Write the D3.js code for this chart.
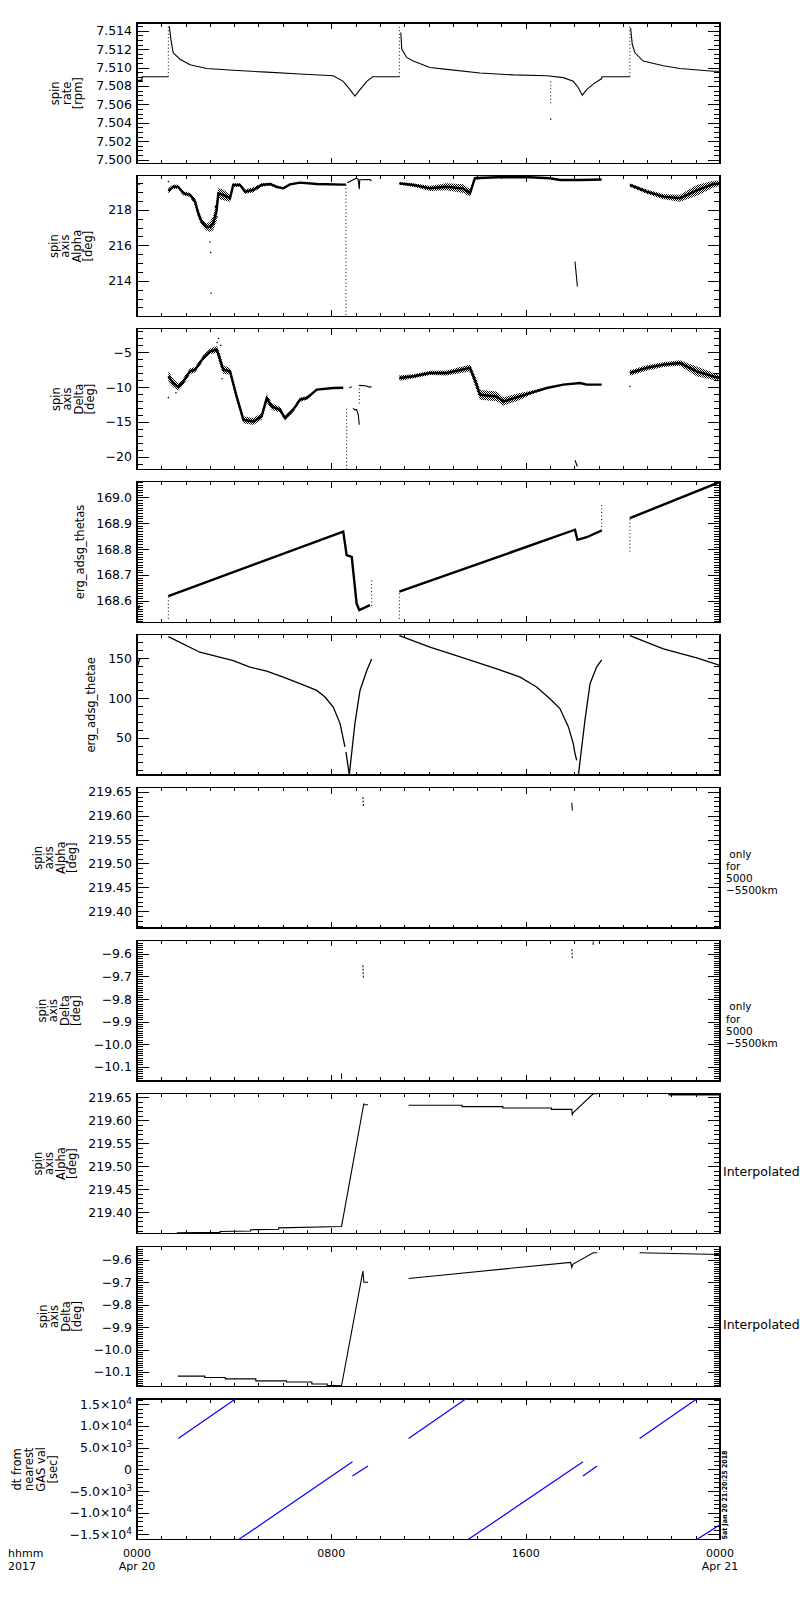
<!DOCTYPE html>
<html>
<head>
<meta charset="utf-8">
<script src="https://cdn.jsdelivr.net/npm/d3@7"></script>
<style>
body{margin:0;background:#fff}
svg{display:block;font-family:"DejaVu Sans",sans-serif}
</style>
</head>
<body>
<svg id="chart" width="800" height="1600"></svg>
<script>
// values: [hours since 2017-04-20 00:00, value(, scatter half width)]

// spin rate [rpm]
const rateA = [[0,7.5086],[0.20,7.5086],[0.21,7.5090],[1.29,7.5090]]
const rateB = [[1.33,7.5145],[1.40,7.5130],[1.49,7.5116],[1.77,7.5109],[2.18,7.5103],[2.87,7.5099],[3.96,7.5097],[5.34,7.5095],[6.71,7.5093],[8.08,7.5091],[8.49,7.5085],[8.77,7.5076],[8.97,7.5069],[9.18,7.5076],[9.46,7.5085],[9.66,7.5089],[9.70,7.5090],[10.80,7.5090]]
const rateC = [[10.86,7.5138],[10.90,7.5120],[11.10,7.5111],[11.37,7.5107],[12.06,7.5100],[12.75,7.5098],[14.12,7.5094],[15.49,7.5092],[16.87,7.5091],[17.55,7.5089],[17.96,7.5085],[18.17,7.5078],[18.33,7.5070],[18.51,7.5076],[18.78,7.5082],[19.13,7.5088],[19.14,7.5090],[20.29,7.5090]]
const rateD = [[20.32,7.5143],[20.39,7.5125],[20.50,7.5116],[20.84,7.5107],[21.67,7.5102],[22.35,7.5099],[23.72,7.5096],[24,7.5096]]
const rateJumps = [[1.29,7.5090,7.5147],[10.80,7.5090,7.5147],[17.03,7.5085,7.5060],[20.29,7.5090,7.5147]]
const rateOut = [[17.03,7.5044]]

// spin axis alpha [deg]
const alphaA = [[1.29,219.07,0.15],[1.49,219.31,0.12],[1.70,219.30,0.12],[1.91,218.94,0.12],[2.18,218.85,0.12],[2.39,218.47,0.2],[2.52,217.81,0.25],[2.66,217.34,0.2],[2.87,217.02,0.2],[3.01,217.06,0.3],[3.14,217.25,0.4],[3.28,218.0,0.6],[3.35,218.94,0.3],[3.55,218.85,0.3],[3.83,218.66,0.2],[3.96,219.41,0.1],[4.24,219.41,0.1],[4.45,219.03,0.12],[4.79,219.13,0.15],[5.13,219.41,0.1],[5.48,219.46,0.08],[5.75,219.30,0.08],[6.02,219.22,0.06],[6.30,219.44,0.05],[6.71,219.54,0.03],[7.40,219.46,0.02],[8.49,219.43,0.02],[8.60,219.43,0]]
const alphaB = [[8.66,219.54],[8.77,219.60],[9.02,219.79],[9.10,219.75],[9.15,219.17],[9.17,219.70],[9.59,219.72],[9.66,219.63]]
const alphaC = [[10.80,219.50,0.08],[11.37,219.41,0.1],[12.06,219.22,0.15],[12.75,219.31,0.2],[13.43,219.20,0.25],[13.71,218.95,0.2],[13.91,219.79,0.08],[14.81,219.84,0.03],[16.18,219.84,0.02],[17.00,219.79,0.01],[17.41,219.69,0.01],[18.24,219.69,0.01],[19.13,219.72,0]]
const alphaD = [[20.29,219.41,0.1],[20.98,219.03,0.12],[21.67,218.75,0.15],[22.35,218.66,0.2],[23.04,219.10,0.3],[23.72,219.45,0.2],[24,219.50,0.15]]
const alphaLeft = [[0,219.46],[0.12,219.46]]
const alphaGlitch = [[18.03,215.09],[18.13,213.68]]
const alphaJumps = [[8.60,219.43,211.99]]
const alphaOut = [[1.29,219.60],[3.00,216.2],[3.03,215.6],[3.05,213.3],[3.30,217.6],[3.22,218.2]]

// spin axis delta [deg]
const deltaA = [[1.29,-8.46,0.8],[1.49,-9.41,0.6],[1.70,-10.0,0.5],[1.91,-9.18,0.5],[2.18,-7.74,0.4],[2.39,-7.5,0.4],[2.73,-5.81,0.4],[3.01,-4.86,0.4],[3.28,-4.6,0.5],[3.42,-6.05,0.9],[3.55,-7.5,0.6],[3.83,-7.74,0.5],[4.10,-11.34,0.6],[4.38,-14.7,0.5],[4.79,-14.94,0.5],[5.13,-14.2,0.5],[5.34,-11.6,0.6],[5.55,-12.78,0.5],[5.89,-13.26,0.4],[6.09,-14.45,0.3],[6.43,-13.26,0.3],[6.71,-11.8,0.3],[6.99,-11.57,0.25],[7.40,-10.37,0.1],[8.08,-10.13,0.05],[8.49,-10.10,0]]
const deltaB = [[8.74,-10.10],[8.84,-9.95]]
const deltaC = [[8.90,-13.0],[8.97,-13.3],[9.04,-13.2],[9.11,-14.0],[9.15,-15.4]]
const deltaD = [[9.15,-9.75],[9.39,-9.80],[9.59,-10.0],[9.66,-9.95]]
const deltaE = [[10.80,-8.69,0.4],[11.37,-8.45,0.3],[12.06,-7.97,0.3],[12.75,-7.97,0.35],[13.71,-7.25,0.5],[13.98,-9.65,0.8],[14.12,-11.1,0.7],[14.81,-11.34,0.7],[15.08,-12.06,0.6],[15.77,-11.34,0.5],[16.18,-10.85,0.3],[16.87,-10.13,0.1],[17.55,-9.65,0.05],[18.24,-9.41,0.02],[18.51,-9.65,0],[19.13,-9.65,0]]
const deltaF = [[20.29,-7.97,0.4],[20.98,-7.25,0.4],[21.67,-6.77,0.35],[22.35,-6.53,0.4],[23.04,-7.74,0.7],[23.72,-8.45,0.5],[24,-8.69,0.4]]
const deltaGlitch = [[18.03,-20.5],[18.13,-21.4]]
const deltaJumps = [[8.63,-21.8,-12.78],[9.15,-9.7,-12.5]]
const deltaOut = [[1.29,-11.5],[3.35,-3.0],[3.30,-3.6],[3.45,-4.0],[3.50,-8.8],[20.29,-9.9],[1.60,-10.8]]

// erg_adsg_thetas
const thetasLeft = [[0,168.57],[0.12,168.58]]
const thetasA = [[1.29,168.618],[8.49,168.868],[8.63,168.777],[8.84,168.770],[9.04,168.590],[9.15,168.564],[9.59,168.583]]
const thetasB = [[10.80,168.635],[18.03,168.875],[18.13,168.836],[18.51,168.846],[19.13,168.872]]
const thetasC = [[20.29,168.920],[24,169.060]]
const thetasJumps = [[1.29,168.53,168.618],[9.66,168.58,168.68],[10.80,168.53,168.635],[19.13,168.872,168.972],[20.29,168.79,168.92]]

// erg_adsg_thetae
const thetaeLeft = [[0,138],[0.12,150]]
const thetaeA = [[1.29,177],[2.59,157.5],[3.96,147],[4.65,138.8],[5.34,133.8],[6.02,126.3],[6.71,118],[7.40,109.6],[7.74,101.3],[8.08,88.8],[8.36,68],[8.56,38.8]]
const thetaeB = [[8.60,32.5],[8.74,4],[8.97,68],[9.18,109.6],[9.46,134.6],[9.66,149]]
const thetaeC = [[10.80,178.4],[12.06,163.8],[13.43,150.4],[14.81,136.7],[15.77,126.3],[16.45,113.8],[17.00,99.2],[17.41,86.8],[17.76,63.8],[17.96,43],[18.03,30.5],[18.10,22]]
const thetaeD = [[18.17,3.4],[18.44,72],[18.65,118],[18.92,138.8],[19.13,148]]
const thetaeE = [[20.29,178.4],[21.67,161.7],[23.04,150.4],[24,140.9]]

// alpha / delta only for 5000-5500 km
const alphaOnlyA = [[9.30,219.639],[9.32,219.620]]
const alphaOnlyB = [[17.90,219.627],[17.92,219.611]]
const deltaOnlyA = [[9.30,-9.650],[9.32,-9.709]]
const deltaOnlyB = [[17.90,-9.579],[17.92,-9.619]]
const deltaOnlyC = [[18.78,-9.545],[18.78,-9.560]]
const deltaOnlyD = [[8.42,-10.130],[8.42,-10.155]]

// alpha / delta interpolated
const alphaIntA = [[1.64,219.355],[3.42,219.356],[3.42,219.358],[4.68,219.359],[4.68,219.362],[5.83,219.363],[5.83,219.366],[8.42,219.369],[9.34,219.637]]
const alphaIntB = [[9.34,219.634],[9.51,219.634]]
const alphaIntC = [[11.18,219.633],[13.38,219.633],[13.38,219.630],[15.06,219.630],[15.06,219.627],[17.06,219.627],[17.06,219.624],[17.90,219.624],[17.92,219.611],[17.94,219.616],[18.78,219.658],[18.95,219.658]]
const alphaIntD = [[21.88,219.657],[24,219.657]]
const deltaIntA = [[1.68,-10.119],[2.79,-10.119],[2.79,-10.125],[3.63,-10.125],[3.63,-10.131],[4.89,-10.131],[4.89,-10.140],[6.15,-10.140],[6.15,-10.145],[7.20,-10.145],[7.20,-10.154],[7.83,-10.154],[7.83,-10.160],[8.42,-10.162],[9.19,-9.714],[9.30,-9.650],[9.34,-9.700],[9.51,-9.700]]
const deltaIntB = [[11.18,-9.683],[17.85,-9.611],[17.90,-9.634],[17.94,-9.620],[18.78,-9.568],[18.95,-9.568]]
const deltaIntC = [[20.69,-9.568],[24,-9.576]]

// dt from nearest GAS val [sec]
const dtA = [[1.70,7100],[4.05,16200]]
const dtB = [[4.19,-16200],[8.87,1746]]
const dtC = [[8.87,-1539],[9.51,758]]
const dtD = [[11.18,7100],[13.53,16200]]
const dtE = [[13.63,-16200],[18.36,1746]]
const dtF = [[18.36,-1539],[18.94,758]]
const dtG = [[20.69,7100],[23.04,16200]]
const dtH = [[23.04,-16200],[24,-12800]]

// ticks
const rateTicks = [7.500,7.502,7.504,7.506,7.508,7.510,7.512,7.514]
const alphaTicks = [214,216,218]
const deltaTicks = [-20,-15,-10,-5]
const thetasTicks = [168.6,168.7,168.8,168.9,169.0]
const thetaeTicks = [50,100,150]
const alphaOnlyTicks = [219.40,219.45,219.50,219.55,219.60,219.65]
const deltaOnlyTicks = [-10.1,-10.0,-9.9,-9.8,-9.7,-9.6]
const dtTicks = [-15000,-10000,-5000,0,5000,10000,15000]
const dtTickText = ["\u22121.5\u00d710","\u22121.0\u00d710","\u22125.0\u00d710","0","5.0\u00d710","1.0\u00d710","1.5\u00d710"]
const dtTickExp = ["4","4","3","","3","4","4"]
const timeTicks = [0,8,16,24]
const timeLabels = [["0000","Apr 20"],["0800"],["1600"],["0000","Apr 21"]]

////////////////////
const svg = d3.select('#chart')
const left = 137, right = 720
const panelTop = 23, panelStep = 152.9, panelH = 140.5
const x = d3.scaleLinear().domain([0, 24]).range([left, right])

const defs = svg.append('defs')
const pat = defs.append('pattern').attr('id', 'stip')
  .attr('width', 2).attr('height', 2).attr('patternUnits', 'userSpaceOnUse')
pat.append('rect').attr('width', 1).attr('height', 1).attr('fill', '#000')
pat.append('rect').attr('x', 1).attr('y', 1).attr('width', 1).attr('height', 1).attr('fill', '#000')

const panels = [
  {title: ["spin", "rate", "[rpm]"], tx: 82, domain: [7.49957, 7.51484], ticks: rateTicks, minor: 0.0005, fmt: d3.format(".3f")},
  {title: ["spin", "axis", "Alpha", "[deg]"], tx: 92, domain: [211.99, 219.92], ticks: alphaTicks, minor: 0.5, fmt: d3.format("d")},
  {title: ["spin", "axis", "Delta", "[deg]"], tx: 94, domain: [-21.8, -1.63], ticks: deltaTicks, minor: 1, fmt: d3.format("d")},
  {title: ["erg_adsg_thetas"], tx: 84, domain: [168.517, 169.061], ticks: thetasTicks, minor: 0.01, fmt: d3.format(".1f")},
  {title: ["erg_adsg_thetae"], tx: 95, domain: [3.4, 179.6], ticks: thetaeTicks, minor: 10, fmt: d3.format("d")},
  {title: ["spin", "axis", "Alpha", "[deg]"], tx: 76, domain: [219.365, 219.659], ticks: alphaOnlyTicks, minor: 0.01, fmt: d3.format(".2f"),
    note: [" only", "for", "5000", "\u22125500km"]},
  {title: ["spin", "axis", "Delta", "[deg]"], tx: 80, domain: [-10.163, -9.54], ticks: deltaOnlyTicks, minor: 0.01, fmt: d3.format(".1f"),
    note: [" only", "for", "5000", "\u22125500km"]},
  {title: ["spin", "axis", "Alpha", "[deg]"], tx: 76, domain: [219.353, 219.659], ticks: alphaOnlyTicks, minor: 0.01, fmt: d3.format(".2f"),
    note: ["Interpolated"]},
  {title: ["spin", "axis", "Delta", "[deg]"], tx: 81, domain: [-10.166, -9.539], ticks: deltaOnlyTicks, minor: 0.01, fmt: d3.format(".1f"),
    note: ["Interpolated"]},
  {title: ["dt from", "nearest", "GAS val", "[sec]"], tx: 57, domain: [-16200, 16200], ticks: dtTicks, minor: 1000, fmt: null, spacing: 12}
]

const ys = panels.map((p, i) => drawPanel(p, i))

function minorTicks(domain, step) {
  const lo = Math.ceil(domain[0] / step - 1e-6), hi = Math.floor(domain[1] / step + 1e-6)
  return d3.range(lo, hi + 1).map(k => +(k * step).toFixed(6))
}

function styleAxis(g) {
  g.select('.domain').remove()
  g.selectAll('line').attr('stroke', '#000').attr('shape-rendering', 'crispEdges')
  g.attr('font-family', null).attr('font-size', null)
}

function drawPanel(p, i) {
  const top = panelTop + i * panelStep
  const bottom = top + panelH
  const y = d3.scaleLinear().domain(p.domain).range([bottom, top])
  const g = svg.append('g')

  defs.append('clipPath').attr('id', 'clip' + i)
    .append('rect').attr('x', left).attr('y', top - 1).attr('width', right - left).attr('height', panelH + 2)
  p.data = svg.append('g').attr('clip-path', 'url(#clip' + i + ')')

  const hours = d3.range(0, 25)
  // x ticks, top and bottom, pointing inward
  g.append('g').attr('transform', `translate(0,${top})`)
    .call(d3.axisTop(x).tickValues(hours).tickSize(-3.5).tickFormat('')).call(styleAxis)
  g.append('g').attr('transform', `translate(0,${top})`)
    .call(d3.axisTop(x).tickValues(timeTicks).tickSize(-6).tickFormat('')).call(styleAxis)
  g.append('g').attr('transform', `translate(0,${bottom})`)
    .call(d3.axisBottom(x).tickValues(hours).tickSize(-3.5).tickFormat('')).call(styleAxis)
  g.append('g').attr('transform', `translate(0,${bottom})`)
    .call(d3.axisBottom(x).tickValues(timeTicks).tickSize(-6).tickFormat('')).call(styleAxis)

  // y ticks left and right
  const minor = minorTicks(p.domain, p.minor)
  g.append('g').attr('transform', `translate(${left},0)`)
    .call(d3.axisLeft(y).tickValues(minor).tickSize(-6).tickFormat('')).call(styleAxis)
  g.append('g').attr('transform', `translate(${right},0)`)
    .call(d3.axisRight(y).tickValues(minor).tickSize(-6).tickFormat('')).call(styleAxis)
  g.append('g').attr('transform', `translate(${right},0)`)
    .call(d3.axisRight(y).tickValues(p.ticks).tickSize(-11.7).tickFormat('')).call(styleAxis)
  const yl = g.append('g').attr('transform', `translate(${left},0)`)
    .call(d3.axisLeft(y).tickValues(p.ticks).tickSize(-11.7).tickPadding(5).tickFormat(p.fmt || (() => '')))
    .call(styleAxis)
  yl.selectAll('text').attr('font-size', 12.5).attr('fill', '#000')

  if (!p.fmt) {
    // powers of ten labels
    yl.selectAll('.tick').each(function (d) {
      const k = dtTicks.indexOf(d)
      const t = d3.select(this).select('text').text(dtTickText[k])
      if (dtTickExp[k]) t.append('tspan').attr('font-size', 9).attr('dy', '-0.55em').text(dtTickExp[k])
    })
  }

  g.append('rect').attr('x', left).attr('y', top).attr('width', right - left).attr('height', panelH)
    .attr('fill', 'none').attr('stroke', '#000').attr('stroke-width', 1.2).attr('shape-rendering', 'crispEdges')

  // y title, rotated
  const sp = p.spacing || 11.5
  const tt = svg.append('text').attr('font-size', 11.5).attr('text-anchor', 'middle')
    .attr('transform', `translate(${p.tx},${top + panelH / 2}) rotate(-90)`)
  p.title.forEach((s, k) => {
    tt.append('tspan').attr('x', 0).attr('y', -(p.title.length - 1 - k) * sp).text(s)
  })

  if (p.note) {
    if (p.note.length > 1) {
      p.note.forEach((s, k) => svg.append('text').attr('font-size', 10.5).attr('xml:space', 'preserve')
        .attr('x', 726).attr('y', top + 70 + k * 12.3).text(s))
    } else {
      svg.append('text').attr('font-size', 12.5).attr('x', 723).attr('y', top + 83).text(p.note[0])
    }
  }
  return y
}

// ---- marks ----
function path(i, pts, w, color, dash) {
  const y = ys[i]
  panels[i].data.append('path').datum(pts)
    .attr('d', d3.line().x(d => x(d[0])).y(d => y(d[1])))
    .attr('fill', 'none').attr('stroke', color || '#000').attr('stroke-width', w || 1)
    .attr('stroke-dasharray', dash || null)
}
function band(i, pts) {
  const y = ys[i]
  panels[i].data.append('path').datum(pts)
    .attr('d', d3.area().x(d => x(d[0])).y0(d => y(d[1] - d[2])).y1(d => y(d[1] + d[2])))
    .attr('fill', 'url(#stip)')
  path(i, pts, 2.4)
}
function jumps(i, list) {
  const y = ys[i]
  panels[i].data.selectAll(null).data(list).enter().append('line')
    .attr('x1', d => x(d[0])).attr('x2', d => x(d[0]))
    .attr('y1', d => y(d[1])).attr('y2', d => y(d[2]))
    .attr('stroke', '#000').attr('stroke-width', 1).attr('stroke-dasharray', '1 2.5')
}
function dots(i, list) {
  const y = ys[i]
  panels[i].data.selectAll(null).data(list).enter().append('rect')
    .attr('x', d => x(d[0]) - 0.6).attr('y', d => y(d[1]) - 0.6)
    .attr('width', 1.3).attr('height', 1.3).attr('fill', '#000')
}

// panel 1
;[rateA, rateB, rateC, rateD].forEach(s => path(0, s, 1.1))
jumps(0, rateJumps); dots(0, rateOut)
// panel 2
band(1, alphaA); band(1, alphaC); band(1, alphaD)
path(1, alphaB, 1.1); path(1, alphaLeft, 1.5); path(1, alphaGlitch, 1.1)
jumps(1, alphaJumps); dots(1, alphaOut)
// panel 3
band(2, deltaA); band(2, deltaE); band(2, deltaF)
;[deltaB, deltaC, deltaD, deltaGlitch].forEach(s => path(2, s, 1.1))
jumps(2, deltaJumps); dots(2, deltaOut)
// panel 4
;[thetasA, thetasB, thetasC].forEach(s => path(3, s, 2.4))
path(3, thetasLeft, 2.4); jumps(3, thetasJumps)
// panel 5
;[thetaeLeft, thetaeA, thetaeB, thetaeC, thetaeD, thetaeE].forEach(s => path(4, s, 1.3))
// panels 6, 7
path(5, alphaOnlyA, 1, '#000', '2 1.5'); path(5, alphaOnlyB, 1.1)
path(6, deltaOnlyA, 1, '#000', '2 1.5'); path(6, deltaOnlyB, 1, '#000', '2 1.5')
path(6, deltaOnlyC, 1); path(6, deltaOnlyD, 1)
// panels 8, 9
;[alphaIntA, alphaIntB, alphaIntC].forEach(s => path(7, s, 1.1))
path(7, alphaIntD, 2.4)
;[deltaIntA, deltaIntB, deltaIntC].forEach(s => path(8, s, 1.1))
// panel 10
;[dtA, dtB, dtC, dtD, dtE, dtF, dtG, dtH].forEach(s => path(9, s, 1.2, '#0000ff'))

// time axis labels under the last panel
const lastBottom = panelTop + 9 * panelStep + panelH
timeTicks.forEach((t, k) => {
  timeLabels[k].forEach((s, j) => svg.append('text').attr('font-size', 11).attr('text-anchor', 'middle')
    .attr('x', x(t)).attr('y', lastBottom + 17.5 + j * 13).text(s))
})
;["hhmm", "2017"].forEach((s, j) => svg.append('text').attr('font-size', 11)
  .attr('x', 8).attr('y', lastBottom + 17.5 + j * 13).text(s))

svg.append('text').attr('font-size', 7).attr('font-weight', 'bold')
  .attr('transform', `translate(727,${lastBottom}) rotate(-90)`)
  .attr('textLength', 89).attr('lengthAdjust', 'spacingAndGlyphs')
  .text('Sat Jan 20 21:20:25 2018')
</script>
</body>
</html>
